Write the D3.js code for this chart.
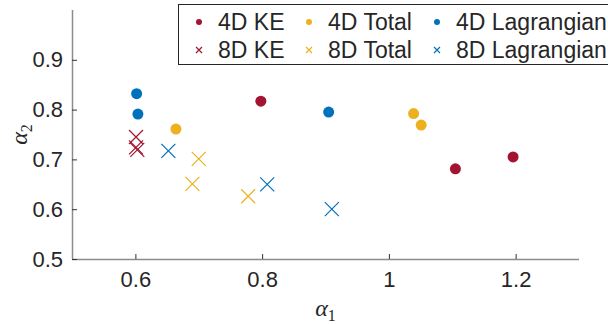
<!DOCTYPE html>
<html>
<head>
<meta charset="utf-8">
<script src="https://d3js.org/d3.v7.min.js"></script>
<style>
  body { margin: 0; background: #fff; }
  text { font-family: "Liberation Sans", Arial, sans-serif; fill: #262626; }
  .math { font-family: "Liberation Serif", "Times New Roman", serif; font-style: italic; }
</style>
</head>
<body>
<div id="chart"></div>
<script>
// series values
var ke4X = [0.798, 1.105, 1.196];
var ke4Y = [0.817, 0.681, 0.705];
var total4X = [0.664, 1.039, 1.051];
var total4Y = [0.761, 0.792, 0.769];
var lag4X = [0.602, 0.604, 0.905];
var lag4Y = [0.832, 0.791, 0.795];
var ke8X = [0.601, 0.601, 0.603];
var ke8Y = [0.745, 0.724, 0.719];
var total8X = [0.690, 0.700, 0.778];
var total8Y = [0.651, 0.701, 0.626];
var lag8X = [0.652, 0.808, 0.910];
var lag8Y = [0.717, 0.650, 0.600];

var xTicks = [0.6, 0.8, 1, 1.2];
var yTicks = [0.5, 0.6, 0.7, 0.8, 0.9];

var seriesNames = ["4D KE", "4D Total", "4D Lagrangian", "8D KE", "8D Total", "8D Lagrangian"];
var red = "#A2142F", yellow = "#EDB120", blue = "#0072BD";

var series = [
  {name: seriesNames[0], xs: ke4X, ys: ke4Y, color: red, shape: "dot"},
  {name: seriesNames[1], xs: total4X, ys: total4Y, color: yellow, shape: "dot"},
  {name: seriesNames[2], xs: lag4X, ys: lag4Y, color: blue, shape: "dot"},
  {name: seriesNames[3], xs: ke8X, ys: ke8Y, color: red, shape: "cross"},
  {name: seriesNames[4], xs: total8X, ys: total8Y, color: yellow, shape: "cross"},
  {name: seriesNames[5], xs: lag8X, ys: lag8Y, color: blue, shape: "cross"}
];

var W = 608, H = 324;
var margin = {top: 10, right: 29, bottom: 65, left: 72};

var svg = d3.select("#chart").append("svg")
    .attr("width", W)
    .attr("height", H);

var x = d3.scaleLinear().domain([0.5, 1.3]).range([margin.left, W - margin.right]);
var y = d3.scaleLinear().domain([0.5, 1.0]).range([H - margin.bottom, margin.top]);

// axes (MATLAB style: ticks point inward, box off)
var xAxis = svg.append("g")
    .attr("transform", "translate(0," + y(0.5) + ")")
    .call(d3.axisBottom(x).tickValues(xTicks).tickSize(-5).tickPadding(12)
      .tickFormat(function(d) { return d3.format("")(d); }));
var yAxis = svg.append("g")
    .attr("transform", "translate(" + x(0.5) + ",0)")
    .call(d3.axisLeft(y).tickValues(yTicks).tickSize(-5).tickPadding(9)
      .tickFormat(d3.format(".1f")));

[xAxis, yAxis].forEach(function(a) {
  a.select(".domain").attr("stroke", "#8c8c8c").attr("stroke-width", 1.5);
  a.selectAll(".tick line").attr("stroke", "#333").attr("stroke-width", 1);
  a.selectAll(".tick text").style("font-size", "22px").attr("fill", "#262626")
    .style("font-family", "'Liberation Sans', Arial, sans-serif");
});
// domain without outer ticks
xAxis.select(".domain").attr("d", "M" + x(0.5) + ",0.5H" + x(1.3));
yAxis.select(".domain").attr("d", "M0.5," + y(0.5) + "V" + y(1.0));

// axis labels
var xl = svg.append("text").attr("class", "math")
    .attr("x", (x(0.5) + x(1.3)) / 2).attr("y", 316)
    .attr("text-anchor", "middle").style("font-size", "24px");
xl.append("tspan").text("α");
xl.append("tspan").attr("dy", 5).style("font-size", "16px").style("font-style", "normal").text("1");

var yl = svg.append("text").attr("class", "math")
    .attr("transform", "translate(27," + ((y(0.5) + y(1.0)) / 2) + ") rotate(-90)")
    .attr("text-anchor", "middle").style("font-size", "24px");
yl.append("tspan").text("α");
yl.append("tspan").attr("dy", 5).style("font-size", "16px").style("font-style", "normal").text("2");

function drawMarker(g, shape, color, size) {
  if (shape === "dot") {
    g.append("circle").attr("r", size).attr("fill", color);
  } else {
    g.append("path")
      .attr("d", "M" + (-size) + "," + (-size) + "L" + size + "," + size +
                 "M" + (-size) + "," + size + "L" + size + "," + (-size))
      .attr("stroke", color).attr("stroke-width", 1.2).attr("fill", "none");
  }
}

// points
series.forEach(function(s) {
  var pts = s.xs.map(function(v, i) { return [v, s.ys[i]]; });
  svg.append("g").selectAll("g")
    .data(pts)
    .enter().append("g")
      .attr("transform", function(d) { return "translate(" + x(d[0]) + "," + y(d[1]) + ")"; })
      .each(function() {
        drawMarker(d3.select(this), s.shape, s.color, s.shape === "dot" ? 5.5 : 7);
      });
});

// legend
var legend = svg.append("g");
legend.append("rect")
    .attr("x", 178.5).attr("y", 4.5)
    .attr("width", 440).attr("height", 60)
    .attr("fill", "#fff").attr("stroke", "#262626").attr("stroke-width", 1);

var colX = [199, 309, 437];
var rowY = [22, 50];
series.forEach(function(s, i) {
  var col = i % 3, row = Math.floor(i / 3);
  var g = legend.append("g")
      .attr("transform", "translate(" + colX[col] + "," + rowY[row] + ")");
  drawMarker(g, s.shape, s.color, 3);
  g.append("text")
      .attr("x", 19).attr("y", 0).attr("dy", "0.36em")
      .style("font-size", "23px").attr("fill", "#000")
      .text(s.name);
});
</script>
</body>
</html>
